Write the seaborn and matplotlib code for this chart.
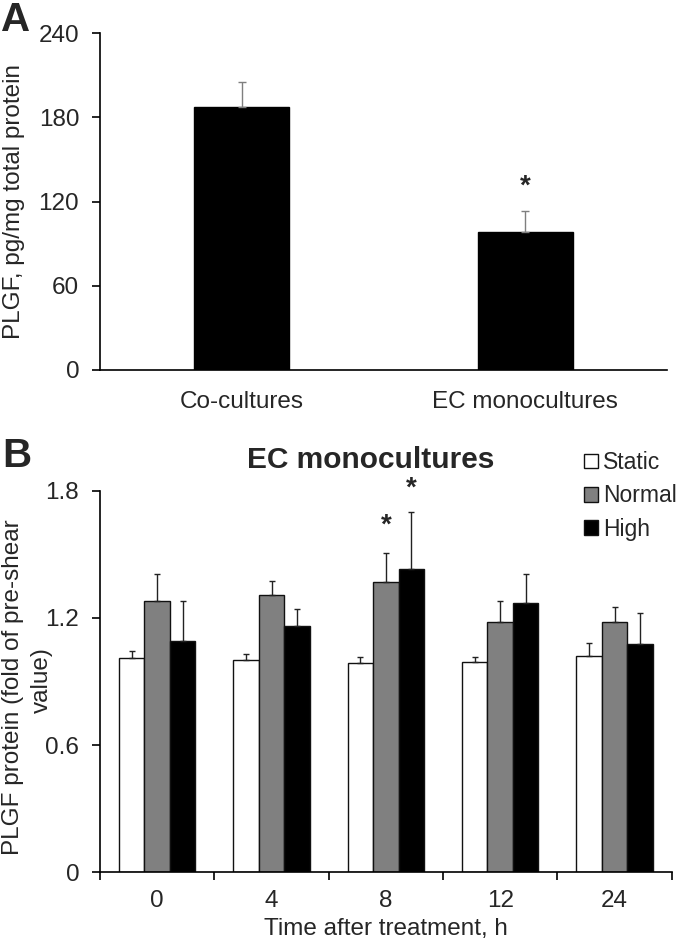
import matplotlib
matplotlib.use("Agg")
import matplotlib.pyplot as plt
import seaborn as sns
import pandas as pd

# ---------------- data ----------------
a_categories = ["Co-cultures", "EC monocultures"]
a_values = [187, 98]
a_errors = [18, 15.5]
a_stars = [False, True]

b_times = ["0", "4", "8", "12", "24"]
b_conditions = ["Static", "Normal", "High"]
b_static = [1.01, 1.00, 0.985, 0.99, 1.02]
b_normal = [1.28, 1.31, 1.37, 1.18, 1.18]
b_high = [1.09, 1.16, 1.43, 1.27, 1.075]
b_static_err = [0.035, 0.03, 0.03, 0.025, 0.06]
b_normal_err = [0.125, 0.065, 0.135, 0.10, 0.07]
b_high_err = [0.19, 0.08, 0.27, 0.135, 0.15]
b_stars_normal = [False, False, True, False, False]
b_stars_high = [False, False, True, False, False]

sns.set_theme(style="white")
plt.rcParams["font.family"] = ["Liberation Sans", "DejaVu Sans"]
FS = 17.5

fig = plt.figure(figsize=(6.79, 9.42), dpi=100)

# ---------------- panel A ----------------
axA = fig.add_axes([100/679, 1-370/942, 567/679, 337/942])
dfA = pd.DataFrame({"cat": a_categories, "val": a_values})
sns.barplot(data=dfA, x="cat", y="val", color="black", saturation=1,
            width=0.335, errorbar=None, ax=axA, edgecolor="black")
barsA = list(axA.containers[0])
for bar, err, star in zip(barsA, a_errors, a_stars):
    cx = bar.get_x() + bar.get_width()/2
    top = bar.get_height()
    axA.errorbar([cx], [top], yerr=[[0], [err]], fmt="none",
                 ecolor="#7f7f7f", elinewidth=1, capsize=3, capthick=1, zorder=3)
    if star:
        axA.annotate("*", xy=(cx, top+err), xytext=(0, 17), textcoords="offset points",
                     ha="center", va="center", fontsize=20, fontweight="bold")
axA.set_xlim(-0.5, 1.5)
axA.set_ylim(0, 240)
axA.set_yticks([0, 60, 120, 180, 240])
axA.set_xlabel("")
axA.set_ylabel("PLGF, pg/mg total protein", fontsize=FS)
axA.yaxis.set_label_coords((25-100)/567, 0.5)
axA.tick_params(axis="y", direction="out", length=6, width=1.2, color="black",
                labelsize=FS, pad=9, left=True)
axA.tick_params(axis="x", length=0, labelsize=FS, pad=15)
for s in ["top", "right"]:
    axA.spines[s].set_visible(False)
for s in ["left", "bottom"]:
    axA.spines[s].set_color("black")
    axA.spines[s].set_linewidth(1.2)

# ---------------- panel B ----------------
axB = fig.add_axes([100/679, 1-872.3/942, 571.7/679, 381.6/942])
rows = []
for cond, vals in zip(b_conditions, [b_static, b_normal, b_high]):
    for t, v in zip(b_times, vals):
        rows.append({"time": t, "cond": cond, "val": v})
dfB = pd.DataFrame(rows)
sns.barplot(data=dfB, x="time", y="val", hue="cond", order=b_times,
            hue_order=b_conditions, palette=["white", "#808080", "black"],
            saturation=1, width=0.67, errorbar=None, ax=axB,
            edgecolor="#111111", linewidth=1)
bar_conts = [list(c) for c in axB.containers[:3]]
errs = [b_static_err, b_normal_err, b_high_err]
stars = [[False]*5, b_stars_normal, b_stars_high]
star_off = [0, 20, 17]
for ci, cont in enumerate(bar_conts):
    for bar, err, st in zip(cont, errs[ci], stars[ci]):
        cx = bar.get_x() + bar.get_width()/2
        top = bar.get_height()
        axB.errorbar([cx], [top], yerr=[[0], [err]], fmt="none",
                     ecolor="#222222", elinewidth=1, capsize=2.5, capthick=1, zorder=3)
        if st:
            axB.annotate("*", xy=(cx, top+err), xytext=(0, star_off[ci]),
                         textcoords="offset points", ha="center", va="center",
                         fontsize=20, fontweight="bold")
axB.set_xlim(-0.5, 4.5)
axB.set_ylim(0, 1.8)
axB.set_yticks([0, 0.6, 1.2, 1.8])
axB.set_yticklabels(["0", "0.6", "1.2", "1.8"])
axB.set_xticks([-0.5, 0.5, 1.5, 2.5, 3.5, 4.5], minor=True)
axB.tick_params(axis="x", which="minor", direction="out", length=6, width=1.2,
                color="black", bottom=True)
axB.tick_params(axis="x", which="major", length=0, labelsize=FS, pad=13)
axB.tick_params(axis="y", direction="out", length=6, width=1.2, color="black",
                labelsize=FS, pad=9, left=True)
axB.set_xlabel("Time after treatment, h", fontsize=FS, labelpad=4)
# two-line y label: first line as the axis label, second line beside it
axB.set_ylabel("PLGF protein (fold of pre-shear", fontsize=FS)
axB.yaxis.set_label_coords((24-100)/571.7, 0.486)
axB.text((42-100)/571.7, 0.504, "value)", transform=axB.transAxes, rotation=90,
         ha="center", va="center", fontsize=FS)
for s in ["top", "right"]:
    axB.spines[s].set_visible(False)
for s in ["left", "bottom"]:
    axB.spines[s].set_color("black")
    axB.spines[s].set_linewidth(1.2)

handles, labels = axB.get_legend_handles_labels()
if axB.get_legend() is not None:
    axB.get_legend().remove()
fig.legend(handles[:3], labels[:3], loc="upper left", bbox_to_anchor=(584/679, 1-451/942),
           frameon=False, fontsize=16.5, handlelength=0.6, handleheight=0.6,
           handletextpad=0.22, labelspacing=0.45, borderpad=0, borderaxespad=0)

fig.text(371/679, 1-460/942, "EC monocultures", ha="center", va="center",
         fontsize=21.5, fontweight="bold")
fig.text(1/679, 1-1/942, "A", ha="left", va="top", fontsize=29, fontweight="bold")
fig.text(2/679, 1-437/942, "B", ha="left", va="top", fontsize=29, fontweight="bold")

fig.savefig("out.png", dpi=100)
